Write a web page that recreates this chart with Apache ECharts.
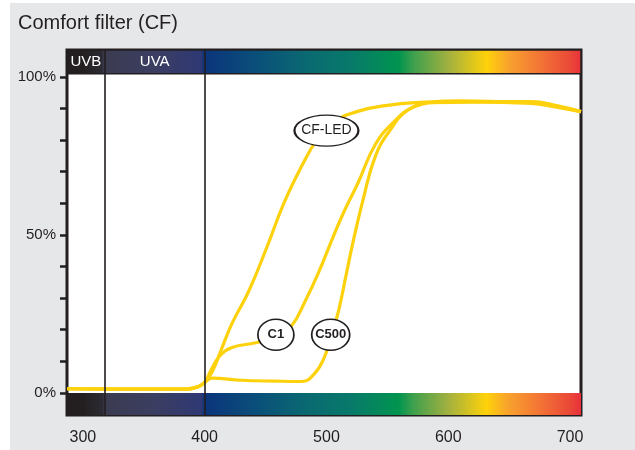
<!DOCTYPE html>
<html>
<head>
<meta charset="utf-8">
<script src="https://cdn.jsdelivr.net/npm/echarts@6/dist/echarts.min.js"></script>
<style>
  html, body { margin: 0; padding: 0; background: #fff; }
  #chart { width: 635px; height: 450px; }
</style>
</head>
<body>
<div id="chart"></div>
<script>
// 透过率曲线 (nm, %)
const cfLedNm  = [287, 340, 385, 395, 400, 406, 414, 422.5, 436, 451, 465, 480, 492, 505, 525, 550, 580, 610, 640, 670, 690, 709]
const cfLedPct = [1.3, 1.2, 1.2, 2.0, 3.3, 6.5, 14, 22, 32, 46, 60, 72, 80, 85.5, 89, 91, 92, 92.4, 92.2, 91.8, 90.6, 89]

const c1Nm  = [287, 340, 385, 395, 400, 405, 412, 422, 440, 458, 471, 483, 494, 503, 514, 526, 540, 556, 572, 595, 630, 668, 690, 709]
const c1Pct = [1.3, 1.2, 1.2, 2.0, 3.3, 7, 11.5, 14.3, 15.7, 17.5, 21, 29.4, 38.5, 47, 57, 66.5, 78.5, 86, 90.5, 92, 92.2, 92.2, 90.8, 89]

const c500Nm  = [287, 340, 385, 395, 400, 406, 430, 460, 480, 490, 498, 504, 510, 516, 522, 530, 540, 552, 567, 585, 620, 668, 690, 709]
const c500Pct = [1.3, 1.2, 1.2, 2.0, 3.3, 4.7, 4.0, 3.7, 3.6, 6, 11, 18, 26, 37, 48, 61, 74.7, 83, 89.5, 91.8, 92, 91.6, 90.3, 89]

// 标签位置 [nm, %]
const cfLedLabelAt = [500, 83]
const c1LabelAt = [458.5, 18.4]
const c500LabelAt = [503.5, 18.4]

// 刻度
const xTicks = [300, 350, 400, 450, 500, 550, 600, 650, 700]
const xLabels = [300, 400, 500, 600, 700]
const yTicks = [0, 10, 20, 30, 40, 50, 60, 70, 80, 90, 100]
const yLabels = [0, 50, 100]

// 波段边界
const uvbRange = [287, 318]
const uvaRange = [318, 400]
const bandLines = [318, 400]

const zip = (xs, ys) => xs.map((x, i) => [x, ys[i]])

const dark = '#231f20'
const yellow = '#fdd20d'

// 光谱色带
const spectrum = () => new echarts.graphic.LinearGradient(0, 0, 1, 0, [
  { offset: 0, color: '#231f20' },
  { offset: 0.031, color: '#231f20' },
  { offset: 0.069, color: '#2c2a33' },
  { offset: 0.073, color: '#3b3b50' },
  { offset: 0.173, color: '#3b3e62' },
  { offset: 0.262, color: '#2e3874' },
  { offset: 0.267, color: '#0b347b' },
  { offset: 0.362, color: '#0a4d7a' },
  { offset: 0.456, color: '#0a6772' },
  { offset: 0.551, color: '#08796a' },
  { offset: 0.645, color: '#00944f' },
  { offset: 0.674, color: '#3fa04d' },
  { offset: 0.74, color: '#a0b040' },
  { offset: 0.816, color: '#ffd20a' },
  { offset: 0.858, color: '#f8a22d' },
  { offset: 0.929, color: '#f26d36' },
  { offset: 0.976, color: '#ea4a37' },
  { offset: 1, color: '#e8303a' }
])

const ellipseLabel = (coord, text, w, bold) => ({
  coord: coord,
  symbol: 'circle',
  symbolSize: [w, 31],
  itemStyle: { color: '#fff', borderColor: dark, borderWidth: 1.6 },
  label: {
    show: true,
    position: 'inside',
    formatter: text,
    color: dark,
    fontSize: bold ? 13 : 14,
    fontWeight: bold ? 'bold' : 'normal',
    fontFamily: 'Liberation Sans'
  }
})

const chart = echarts.init(document.getElementById('chart'))

const lineBase = {
  type: 'line',
  smooth: 0.45,
  showSymbol: false,
  symbol: 'none',
  lineStyle: { color: yellow, width: 3.2 },
  silent: true,
  z: 3
}

const option = {
  animation: false,
  textStyle: { fontFamily: 'Liberation Sans' },
  graphic: [{
    type: 'rect',
    z: -100,
    shape: { x: 10, y: 3, width: 625, height: 447 },
    style: { fill: '#e6e7e9' }
  }],
  title: {
    text: 'Comfort filter (CF)',
    left: 13,
    top: 8,
    textStyle: { color: dark, fontSize: 20, fontWeight: 'normal', fontFamily: 'Liberation Sans' }
  },
  grid: {
    left: 67,
    right: 54,
    top: 50,
    bottom: 35,
    show: true,
    backgroundColor: '#fff',
    borderColor: dark,
    borderWidth: 3
  },
  xAxis: {
    type: 'value',
    min: 287,
    max: 709,
    axisLine: { show: false },
    splitLine: { show: false },
    axisTick: {
      customValues: xTicks,
      length: 9,
      lineStyle: { color: dark, width: 3 }
    },
    axisLabel: {
      customValues: xLabels,
      color: dark,
      fontSize: 16,
      margin: 15
    }
  },
  yAxis: {
    type: 'value',
    min: -7,
    max: 108.5,
    axisLine: { show: false },
    splitLine: { show: false },
    axisTick: {
      customValues: yTicks,
      length: 7,
      lineStyle: { color: dark, width: 2.5 }
    },
    axisLabel: {
      customValues: yLabels,
      formatter: '{value}%',
      color: dark,
      fontSize: 15,
      margin: 11
    }
  },
  series: [
    {
      ...lineBase,
      name: 'CF-LED',
      data: zip(cfLedNm, cfLedPct),
      markArea: {
        silent: true,
        data: [
          [{ xAxis: 287, yAxis: 101, itemStyle: { color: spectrum(), borderColor: dark, borderWidth: 1.5 } }, { xAxis: 709, yAxis: 108.5 }],
          [{ xAxis: 287, yAxis: -7, itemStyle: { color: spectrum() } }, { xAxis: 709, yAxis: 0 }],
          [{ name: 'UVB', xAxis: uvbRange[0], yAxis: 101, itemStyle: { color: 'transparent' } }, { xAxis: uvbRange[1], yAxis: 108.5 }],
          [{ name: 'UVA', xAxis: uvaRange[0], yAxis: 101, itemStyle: { color: 'transparent' } }, { xAxis: uvaRange[1], yAxis: 108.5 }]
        ],
        label: {
          show: true,
          position: 'inside',
          color: '#fff',
          fontSize: 15,
          formatter: (p) => p.name || ''
        }
      },
      markLine: {
        silent: true,
        symbol: 'none',
        label: { show: false },
        lineStyle: { color: dark, width: 1.6, type: 'solid' },
        data: bandLines.map(v => ({ xAxis: v }))
      },
      markPoint: {
        silent: true,
        data: [ellipseLabel(cfLedLabelAt, 'CF-LED', 64, false)]
      }
    },
    {
      ...lineBase,
      name: 'C1',
      data: zip(c1Nm, c1Pct),
      markPoint: {
        silent: true,
        data: [ellipseLabel(c1LabelAt, 'C1', 36, true)]
      }
    },
    {
      ...lineBase,
      name: 'C500',
      data: zip(c500Nm, c500Pct),
      markPoint: {
        silent: true,
        data: [ellipseLabel(c500LabelAt, 'C500', 38, true)]
      }
    }
  ]
}

chart.setOption(option)
</script>
</body>
</html>
